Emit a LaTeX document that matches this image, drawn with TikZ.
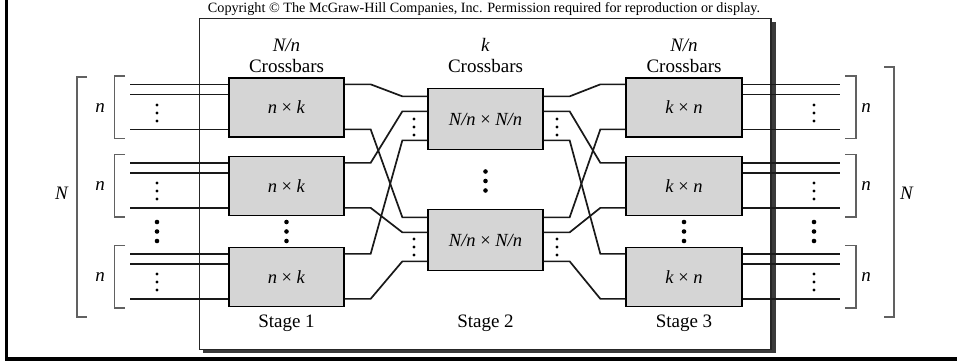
\documentclass[tikz,border=0pt]{standalone}
\usepackage{fontspec}
\setmainfont{Liberation Serif}
\usetikzlibrary{calc}
\definecolor{boxgray}{HTML}{D5D5D5}
\definecolor{shadowgray}{HTML}{3A3A3A}
% a straight-bent-straight wire between two stages
\newcommand\hop[2]{\draw[wire] (#1) -- ++(26,0) -- ([xshift=-25pt]#2) -- (#2);}
% three dots in a column: x, y of the middle dot, gap, radius
\newcommand\dotcol[4]{\foreach \k in {-1,0,1} {\fill ({#1},{#2+\k*#3}) circle (#4);}}
% square bracket: x of the spine, x of the tick ends, top, bottom
\newcommand\brkt[4]{\draw[brk] (#2,#3) -- (#1,#3) -- (#1,#4) -- (#2,#4);}
\begin{document}
\begin{tikzpicture}[x=1pt,y=-1pt,
  wire/.style={draw=black!90, line width=1.7pt},
  xbar/.style={draw=black, line width=1.3pt, fill=boxgray, minimum width=115pt,
    minimum height=59pt, inner sep=0pt, font=\fontsize{18.5}{20}\selectfont},
  brk/.style={draw=black!62, line width=1.2pt},
  lbl/.style={font=\fontsize{19}{21}\selectfont, inner sep=0pt}]
\useasboundingbox (0,0) rectangle (957,361);

% page rules
\fill[black] (4.5,0) rectangle (8,361);
\fill[black] (4.5,357) rectangle (957,361);

% framed network with its shadow
\fill[shadowgray] (203,22) rectangle (775.5,353);
\draw[draw=black!85, line width=1.2pt, fill=white] (199.5,18.5) rectangle (771,349.5);

\node[font=\fontsize{14.2}{16}\selectfont, inner sep=0pt] (copy) at (484,9)
  {Copyright © The McGraw-Hill Companies, Inc. Permission required for reproduction or display.};

% column headings
\node[lbl] (h1a) at (286.5,45) {\textit{N/n}};
\node[lbl] (h1b) at (286.5,66) {Crossbars};
\node[lbl] (h2a) at (485.5,45) {\textit{k}};
\node[lbl] (h2b) at (485.5,66) {Crossbars};
\node[lbl] (h3a) at (684,45) {\textit{N/n}};
\node[lbl] (h3b) at (684,66) {Crossbars};
\node[lbl] (s1) at (286.5,323) {Stage 1};
\node[lbl] (s2) at (485.5,323) {Stage 2};
\node[lbl] (s3) at (684,323) {Stage 3};

% crossbar switches
\node[xbar] (a1) at (286.5,107.5) {\textit{n} × \textit{k}};
\node[xbar] (a2) at (286.5,186) {\textit{n} × \textit{k}};
\node[xbar] (a3) at (286.5,277) {\textit{n} × \textit{k}};
\node[xbar, minimum height=61pt] (b1) at (485.5,119) {\textit{N/n} × \textit{N/n}};
\node[xbar, minimum height=61pt] (b2) at (485.5,240) {\textit{N/n} × \textit{N/n}};
\node[xbar, minimum width=116pt] (c1) at (684,107.5) {\textit{k} × \textit{n}};
\node[xbar, minimum width=116pt] (c2) at (684,186) {\textit{k} × \textit{n}};
\node[xbar, minimum width=116pt] (c3) at (684,277) {\textit{k} × \textit{n}};

% ports on the switch sides
\foreach \b in {a1,a2,a3,c1,c2,c3}{
  \coordinate (\b w1) at ($(\b.north west)+(0,7)$);
  \coordinate (\b w2) at ($(\b.north west)+(0,17)$);
  \coordinate (\b w3) at ($(\b.north west)+(0,52)$);
  \coordinate (\b e1) at ($(\b.north east)+(0,7)$);
  \coordinate (\b e2) at ($(\b.north east)+(0,17)$);
  \coordinate (\b e3) at ($(\b.north east)+(0,52)$);
}
\foreach \b in {b1,b2}{
  \coordinate (\b w1) at ($(\b.north west)+(0,8.5)$);
  \coordinate (\b w2) at ($(\b.north west)+(0,23.5)$);
  \coordinate (\b w3) at ($(\b.north west)+(0,52.5)$);
  \coordinate (\b e1) at ($(\b.north east)+(0,8.5)$);
  \coordinate (\b e2) at ($(\b.north east)+(0,23.5)$);
  \coordinate (\b e3) at ($(\b.north east)+(0,52.5)$);
}
\coordinate (xin) at (130,0);
\coordinate (xout) at (840,0);

% inputs and outputs
\foreach \b in {a1,a2,a3}{\foreach \p in {1,2,3}{\draw[wire] (\b w\p -| xin) -- (\b w\p);}}
\foreach \b in {c1,c2,c3}{\foreach \p in {1,2,3}{\draw[wire] (\b e\p) -- (\b e\p -| xout);}}

% stage 1 to stage 2
\hop{a1e1}{b1w1}
\hop{a1e3}{b2w1}
\hop{a2e1}{b1w2}
\hop{a2e3}{b2w2}
\hop{a3e1}{b1w3}
\hop{a3e3}{b2w3}
% stage 2 to stage 3
\hop{b1e1}{c1w1}
\hop{b2e1}{c1w3}
\hop{b1e2}{c2w1}
\hop{b2e2}{c2w3}
\hop{b1e3}{c3w1}
\hop{b2e3}{c3w3}

% small ellipses between lines
\foreach \yy in {113,191,282}{\dotcol{157}{\yy}{8}{1.7pt}\dotcol{814}{\yy}{8}{1.7pt}}
\foreach \yy in {127,247}{\dotcol{414}{\yy}{8}{1.7pt}\dotcol{557}{\yy}{8}{1.7pt}}
% large ellipses between groups
\foreach \xx in {157,286.5,684,814}{\dotcol{\xx}{231.5}{9.5}{2.3pt}}
\dotcol{485.5}{181}{9.5}{2.3pt}

% brackets on the left
\brkt{114.5}{125}{76}{138.5}
\brkt{114.5}{125}{154.5}{217}
\brkt{114.5}{125}{245.5}{308}
\brkt{77}{87}{77}{317}
\node[lbl] (nl1) at (100,108) {\textit{n}};
\node[lbl] (nl2) at (100,186) {\textit{n}};
\node[lbl] (nl3) at (100,277) {\textit{n}};
\node[lbl] (Nl) at (62,193) {\textit{N}};

% brackets on the right
\brkt{856}{845}{76}{138.5}
\brkt{856}{845}{154.5}{217}
\brkt{856}{845}{245.5}{308}
\brkt{894}{884}{67}{317}
\node[lbl] (nr1) at (866,108) {\textit{n}};
\node[lbl] (nr2) at (866,186) {\textit{n}};
\node[lbl] (nr3) at (866,277) {\textit{n}};
\node[lbl] (Nr) at (907,193) {\textit{N}};
\end{tikzpicture}
\end{document}
